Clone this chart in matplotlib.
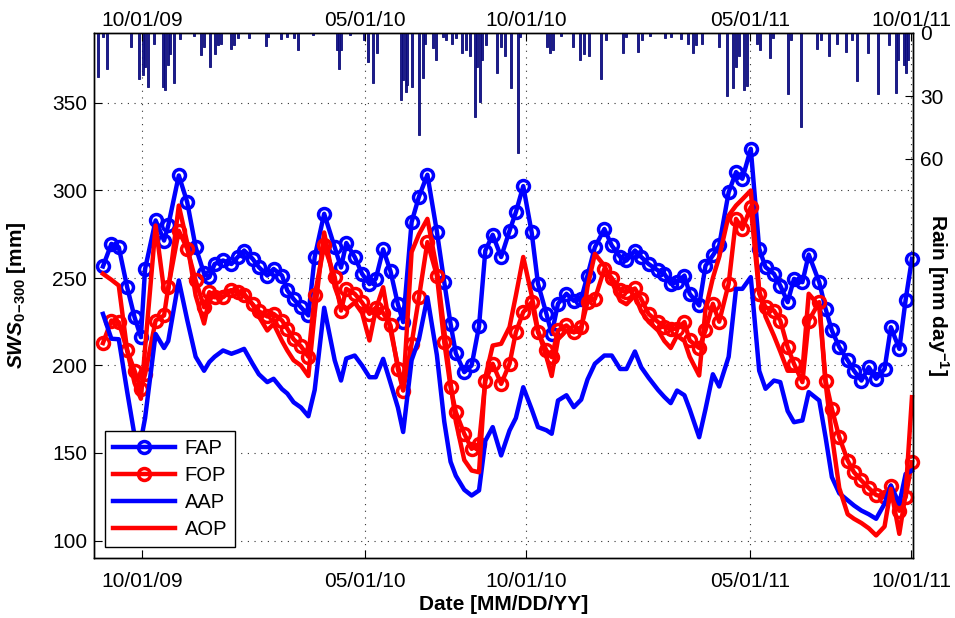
import numpy as np
import pandas as pd
import matplotlib
matplotlib.use('Agg')
import matplotlib.pyplot as plt
import matplotlib.dates as mdates

plt.rcParams['font.family'] = 'Liberation Sans'
plt.rcParams['mathtext.fontset'] = 'custom'
plt.rcParams['mathtext.it'] = 'Liberation Sans:italic:bold'
plt.rcParams['mathtext.bf'] = 'Liberation Sans:bold'
plt.rcParams['mathtext.rm'] = 'Liberation Sans:bold'

# sampling dates (weekly-ish)
dates = pd.to_datetime([
    "2009-08-25", "2009-09-02", "2009-09-09", "2009-09-17", "2009-09-24", "2009-09-30", "2009-10-04",
    "2009-10-14", "2009-10-22", "2009-10-26", "2009-11-05", "2009-11-13", "2009-11-21", "2009-11-29",
    "2009-12-04", "2009-12-09", "2009-12-17", "2009-12-25", "2009-12-31",
    "2010-01-06", "2010-01-14", "2010-01-20", "2010-01-28", "2010-02-03", "2010-02-11", "2010-02-16",
    "2010-02-22", "2010-03-01", "2010-03-08", "2010-03-14", "2010-03-23", "2010-04-02", "2010-04-08",
    "2010-04-13", "2010-04-21", "2010-04-28", "2010-05-05", "2010-05-11", "2010-05-18", "2010-05-25",
    "2010-06-01", "2010-06-06", "2010-06-14", "2010-06-21", "2010-06-29", "2010-07-08", "2010-07-15",
    "2010-07-21", "2010-07-26", "2010-08-03", "2010-08-10", "2010-08-17", "2010-08-23", "2010-08-30",
    "2010-09-07", "2010-09-15", "2010-09-21", "2010-09-28", "2010-10-06", "2010-10-12", "2010-10-20",
    "2010-10-25", "2010-10-31", "2010-11-08", "2010-11-15", "2010-11-22", "2010-11-28", "2010-12-05",
    "2010-12-14", "2010-12-21", "2010-12-29",
    "2011-01-04", "2011-01-12", "2011-01-18", "2011-01-25", "2011-02-03", "2011-02-09", "2011-02-15",
    "2011-02-21", "2011-02-28", "2011-03-05", "2011-03-14", "2011-03-20", "2011-03-27", "2011-04-02",
    "2011-04-11", "2011-04-18", "2011-04-24", "2011-05-02", "2011-05-10", "2011-05-16", "2011-05-24",
    "2011-05-30", "2011-06-06", "2011-06-12", "2011-06-20", "2011-06-26", "2011-07-06", "2011-07-12",
    "2011-07-18", "2011-07-25", "2011-08-02", "2011-08-08", "2011-08-15", "2011-08-22", "2011-08-29",
    "2011-09-06", "2011-09-12", "2011-09-20", "2011-09-26", "2011-10-02",
])

fap = [256.6, 269.5, 267.6, 244.7, 227.6, 216.2, 255.2, 282.9, 271.4, 280, 308.6, 293.3, 267.6, 252.6,
       250.5, 258, 260, 258, 262,
       265.7, 261, 256.2, 251.4, 255.2, 251.4, 242.9, 238, 233.3, 228.6, 262, 286.7, 267.6, 256,
       270, 262, 252.4, 246.5, 249.5, 266.4, 253.8, 235, 224.8, 281.9, 296.5, 309, 276.5, 247.6,
       223.8, 207, 196.2, 200, 222.4, 265.7, 274.7, 262, 277, 287.6, 302.5, 276, 246.7, 229.5,
       218, 235.3, 241, 237, 238, 251.4, 267.6, 278, 268.6, 262,
       260, 265.7, 262, 258, 254.3, 252.4, 246.7, 247.6, 251.4, 241, 234.3, 257, 262.9, 268.6,
       299, 310.5, 306.7, 323.8, 266.7, 256.2, 252.4, 245.7, 236.2, 249.5, 247.6, 263.4, 247.6, 232.4,
       220, 210.5, 202.9, 197, 191.4, 199, 192.4, 198, 221.9, 209.5, 237.5, 261]

fop = [212.8, 225.7, 224.8, 208.6, 197, 186.7, 195, 225.7, 228.6, 244.7, 277, 266.7, 248.6, 233.3,
       241.9, 239, 239, 243, 241.9,
       240, 235, 231, 228, 229.5, 225.7, 221, 215, 211, 205, 240, 268.6, 250.5, 231.4,
       243.8, 241, 236, 229.5, 233, 230, 222.9, 198, 185.7, 212.4, 239, 270.5, 251.4, 213.3,
       187.6, 173.3, 161, 152.4, 155.2, 191.4, 201, 189.5, 201, 219, 230.5, 236.2, 219, 208.6,
       204.8, 220, 222.9, 219, 221.9, 236.2, 238, 255.2, 250, 243,
       242, 244, 238, 229.5, 224.8, 221.9, 221, 221, 224.8, 214.3, 210, 220, 235.3, 225,
       246.7, 283.8, 278, 290.5, 241, 233.3, 231.4, 225.7, 210.5, 201, 190.5, 225.7, 236.2, 191.4,
       175.2, 159, 145.7, 139, 134.3, 130, 126, 124.8, 131.4, 117, 124.8, 144.7]

aap = [229.5, 215.3, 215, 185, 160, 157, 170, 218, 210, 214, 248.6, 226, 205, 197,
       202, 205, 208.6, 206.7, 208,
       209.5, 201, 195, 190.5, 192.4, 186.5, 184, 179, 176, 171, 186, 233, 203, 191.4,
       204, 205.7, 200, 193.3, 193.3, 203.8, 190, 176, 162, 203, 215, 239, 206, 168, 145,
       137, 129, 125.7, 128.6, 157, 164.8, 148.6, 162.9, 170, 187.6, 175, 164.8, 163,
       161, 180, 183, 176.2, 180.5, 192, 201, 205.7, 205.7, 198,
       198, 208, 199, 193, 186, 182, 178.5, 185.7, 183, 175, 159, 175, 195, 188,
       205, 243.8, 243.8, 250.5, 197, 186.7, 191.4, 190.5, 174, 167.6, 168.6, 184.8, 180, 159,
       136.2, 127, 123, 120, 117.1, 115, 112.4, 121, 131.4, 121, 138, 140]

aop = [252.4, 249, 245.7, 208.6, 190, 181, 210, 280, 243, 243, 291.4, 270, 240, 224,
       238, 240, 241.9, 243, 242.5,
       241, 235, 228, 220, 223.8, 214, 208.6, 203, 200, 194, 230, 276, 245, 235,
       232, 236, 230, 214.3, 232, 244.7, 220, 200, 186, 264.8, 275, 283.8, 255, 220,
       190, 168, 146, 140, 139, 193.3, 211.4, 212.4, 222, 240, 262, 240, 220, 205,
       194, 215, 220, 219, 220, 245, 263.8, 257, 248, 237,
       235, 240, 231, 225, 220, 214, 210, 217, 214, 205, 194.3, 232, 250, 262,
       285.7, 291.4, 295, 300, 243, 228, 217, 208, 197, 197, 197, 241, 234, 190,
       160, 130, 115, 112.4, 110, 107, 102.9, 108, 129.5, 103.8, 126.8, 181.9]

# daily rainfall [mm]
rain_dates = pd.to_datetime([
    "2009-08-20", "2009-08-25", "2009-08-29", "2009-09-21", "2009-09-28", "2009-10-02", "2009-10-04",
    "2009-10-07", "2009-10-12", "2009-10-21", "2009-10-23", "2009-10-26", "2009-10-28", "2009-10-31",
    "2009-11-06", "2009-11-19", "2009-11-26", "2009-11-29", "2009-12-05", "2009-12-09", "2009-12-12",
    "2009-12-15", "2009-12-25", "2009-12-27", "2009-12-31", "2010-01-11", "2010-01-27", "2010-01-29",
    "2010-02-10", "2010-02-16", "2010-02-22", "2010-02-26", "2010-03-12", "2010-04-04", "2010-04-06",
    "2010-04-08", "2010-04-17", "2010-04-30", "2010-05-04", "2010-05-08", "2010-05-12", "2010-06-04",
    "2010-06-06", "2010-06-09", "2010-06-10", "2010-06-14", "2010-06-21", "2010-06-25", "2010-06-27",
    "2010-07-04", "2010-07-07", "2010-07-14", "2010-07-17", "2010-07-22", "2010-07-26", "2010-08-01",
    "2010-08-05", "2010-08-08", "2010-08-13", "2010-08-15", "2010-08-18", "2010-08-20", "2010-08-24",
    "2010-09-03", "2010-09-07", "2010-09-11", "2010-09-16", "2010-09-23", "2010-09-25", "2010-10-21",
    "2010-10-23", "2010-10-26", "2010-11-03", "2010-11-14", "2010-11-21", "2010-11-25", "2010-11-29",
    "2010-12-11", "2010-12-16", "2011-01-01", "2011-01-04", "2011-01-15", "2011-01-19", "2011-01-26",
    "2011-02-10", "2011-02-15", "2011-02-25", "2011-03-03", "2011-03-08", "2011-03-11", "2011-03-17",
    "2011-04-02", "2011-04-09", "2011-04-15", "2011-04-18", "2011-04-21", "2011-04-26", "2011-04-28",
    "2011-05-08", "2011-05-11", "2011-05-20", "2011-05-23", "2011-06-06", "2011-06-09", "2011-06-19",
    "2011-07-04", "2011-07-08", "2011-07-15", "2011-07-23", "2011-07-31", "2011-08-06", "2011-08-11",
    "2011-08-21", "2011-08-31", "2011-09-10", "2011-09-17", "2011-09-19", "2011-09-24", "2011-09-26",
    "2011-09-28",
])
rain_mm = [21, 2, 17, 6.5, 22, 20, 16,
           25.5, 5, 25.5, 27, 15, 10, 24,
           3, 1.5, 10.5, 6.5, 16, 10, 5.7,
           5, 7.8, 5.7, 2.5, 2.5, 6.2, 1.7,
           3, 1.7, 2.5, 8, 1, 8, 17,
           8, 1, 3.3, 13.7, 23.7, 9.4, 32,
           22.4, 28, 24.8, 25.6, 48.6, 21.6, 5,
           7.3, 12.9, 1.7, 3.3, 5, 2.5, 9.7,
           8, 11, 40, 16, 33, 13, 5.7,
           19, 6.5, 11, 26, 57, 1.7, 6.5,
           9.4, 8, 1.4, 6.5, 13, 10, 11,
           22, 3.3, 9.7, 1.7, 9, 3.3, 1.4,
           2.5, 1.7, 3, 5, 9.4, 5.7, 5,
           6.5, 30, 26, 16, 11, 27, 25,
           5, 8, 12, 2.5, 29, 3.3, 44.6,
           7.8, 3.3, 11, 5, 9, 3.3, 23,
           9.4, 29, 5.7, 28.4, 12.9, 15, 19,
           12.9]

tick_dates = pd.to_datetime(["2009-10-01", "2010-05-01", "2010-10-01", "2011-05-01", "2011-10-01"])

fig = plt.figure(figsize=(9.55, 6.18), dpi=100)
ax = fig.add_axes([94 / 955, 1 - 558 / 618, 819 / 955, 525 / 618])

lw = 3.2
mk = dict(marker='o', markersize=8.6, markeredgewidth=2.5, markerfacecolor='none')
ax.plot(dates, fap, color='b', lw=lw, label='FAP', clip_on=False, **mk)
ax.plot(dates, fop, color='r', lw=lw, label='FOP', clip_on=False, **mk)
ax.plot(dates, aap, color='b', lw=lw, label='AAP', clip_on=False)
ax.plot(dates, aop, color='r', lw=lw, label='AOP', clip_on=False)

ax.set_ylim(90, 390)
ax.set_yticks([100, 150, 200, 250, 300, 350])
ax.set_xlim(pd.Timestamp("2009-08-16 12:00"), pd.Timestamp("2011-10-03"))
ax.set_xticks(tick_dates)
ax.xaxis.set_major_formatter(mdates.DateFormatter('%m/%d/%y'))
ax.grid(True, linestyle=(0, (1, 5)), color='#333333', linewidth=0.8)
ax.tick_params(axis='both', direction='in', length=6, width=0.8, labelsize=15)
ax.tick_params(axis='x', pad=10)
ax.tick_params(axis='y', pad=5)

ax.set_xlabel('Date [MM/DD/YY]', fontsize=15, fontweight='bold', labelpad=3)
ax.set_ylabel(r'$SWS_{0\!-\!300}$ [mm]', fontsize=15, fontweight='bold')
ax.yaxis.set_label_coords(-0.08, 0.5)

leg = ax.legend(loc='lower left', bbox_to_anchor=(0.0134, 0.021), borderaxespad=0,
                fontsize=14.5, handlelength=3.1, handletextpad=0.45, labelspacing=0.4,
                numpoints=1, fancybox=False, framealpha=1, edgecolor='k', borderpad=0.4)
leg.get_frame().set_linewidth(1.0)

# rainfall on an inverted right axis, dates repeated along the top
ax2 = ax.twinx()
ax2.bar(rain_dates, rain_mm, width=1.9, color='#1c1c8e', edgecolor='#0a0a78', linewidth=0.6)
ax2.set_ylim(250, 0)
ax2.set_yticks([0, 30, 60])
ax2.tick_params(axis='y', direction='in', length=6, width=0.8, labelsize=15, pad=5)
ax2.xaxis.set_visible(True)
ax2.tick_params(axis='x', top=True, labeltop=True, bottom=False, labelbottom=False,
                direction='in', length=6, width=0.8, labelsize=15, pad=2)
ax2.set_ylabel(r'Rain [mm day$^{-1}$]', fontsize=15, fontweight='bold', rotation=270, va='center')
ax2.yaxis.set_label_coords(1.031, 0.5)

for a in (ax, ax2):
    for s in a.spines.values():
        s.set_linewidth(1.0)

fig.savefig('out.png', dpi=100)
